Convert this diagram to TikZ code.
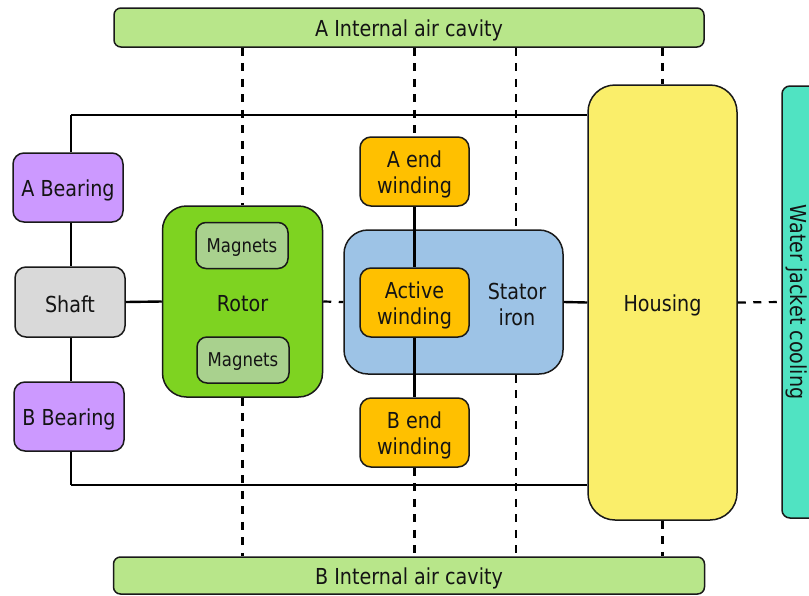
\documentclass[tikz,border=0pt]{standalone}
\usepackage{fontspec}
\setmainfont{DejaVu Sans}[FakeStretch=0.87]
\begin{document}
\begin{tikzpicture}[x=1pt,y=-1pt,
  every node/.style={font=\fontsize{22}{26}\selectfont, text=black!92, align=center, inner sep=0pt},
  blk/.style={draw=black!90, line width=1.5pt, rounded corners=#1},
  blk/.default=11pt,
  lbl/.style={yshift=-2.5pt},
  link/.style={line width=2.4pt, black},
  dlink/.style={line width=2.2pt, black, dash pattern=on 8pt off 7.5pt}]
\definecolor{cavity}{RGB}{184,230,138}
\definecolor{bearing}{RGB}{204,153,255}
\definecolor{shaftc}{RGB}{217,217,217}
\definecolor{rotorc}{RGB}{126,211,33}
\definecolor{magnet}{RGB}{169,209,142}
\definecolor{winding}{RGB}{255,192,0}
\definecolor{statorc}{RGB}{157,195,230}
\definecolor{housingc}{RGB}{250,238,106}
\definecolor{waterc}{RGB}{80,227,194}

\useasboundingbox (0,0) rectangle (809,595);

% air cavities
\node[blk=7pt, fill=cavity, minimum width=590pt, minimum height=39pt] (topbar) at (409,27.5) {};
\node[lbl] (topbar-t) at (topbar) {A Internal air cavity};
\node[blk=7pt, fill=cavity, minimum width=591pt, minimum height=37pt] (botbar) at (409,575.5) {};
\node[lbl] (botbar-t) at (botbar) {B Internal air cavity};

% shaft and bearings
\node[blk, fill=bearing, minimum width=110pt, minimum height=69pt] (abear) at (68,187.5) {};
\node[lbl] (abear-t) at (abear) {A Bearing};
\node[blk, fill=shaftc, minimum width=110pt, minimum height=70pt] (shaft) at (70,302) {};
\node[lbl] (shaft-t) at (shaft) {Shaft};
\node[blk, fill=bearing, minimum width=110pt, minimum height=69pt] (bbear) at (69,416.5) {};
\node[lbl] (bbear-t) at (bbear) {B Bearing};

% rotor
\node[blk=24pt, fill=rotorc, minimum width=160pt, minimum height=191pt] (rotor) at (242.5,301.5) {};
\node[lbl] (rotor-t) at (rotor) {Rotor};
\node[blk=10pt, fill=magnet, minimum width=92pt, minimum height=46pt] (magtop) at (242,245.5) {};
\node[lbl, yshift=0.5pt, font=\fontsize{19}{23}\selectfont] (magtop-t) at (magtop) {Magnets};
\node[blk=10pt, fill=magnet, minimum width=92pt, minimum height=46pt] (magbot) at (243,360) {};
\node[lbl, yshift=0.5pt, font=\fontsize{19}{23}\selectfont] (magbot-t) at (magbot) {Magnets};

% stator
\node[blk=24pt, fill=statorc, minimum width=219pt, minimum height=144pt] (stator) at (453.5,302) {};
\node[lbl] (stator-t) at (517,302) {Stator\\iron};
\node[blk, fill=winding, minimum width=109pt, minimum height=69pt] (aend) at (414.5,171.5) {};
\node[lbl] (aend-t) at (aend) {A end\\winding};
\node[blk, fill=winding, minimum width=109pt, minimum height=69pt] (active) at (414.5,302.5) {};
\node[lbl] (active-t) at (active) {Active\\winding};
\node[blk, fill=winding, minimum width=109pt, minimum height=69pt] (bend) at (414.5,432.5) {};
\node[lbl] (bend-t) at (bend) {B end\\winding};

% housing and water jacket
\node[blk=27pt, fill=housingc, minimum width=149pt, minimum height=435pt] (housing) at (662.5,302.5) {};
\node[lbl] (housing-t) at (housing) {Housing};
\node[blk=8pt, fill=waterc, minimum width=60pt, minimum height=432pt] (water) at (812,302) {};
\node[rotate=-90] (water-t) at (797,302) {Water jacket cooling};

% frame of the solid heat paths
\coordinate (tl) at (71,115);
\coordinate (bl) at (71,485);
\coordinate (sx) at (516,302);

\draw[link] (tl) -- (tl -| housing.west);
\draw[link] (bl) -- (bl -| housing.west);
\draw[link] (tl) -- (tl |- abear.north);
\draw[link] (abear.south -| tl) -- (shaft.north -| tl);
\draw[link] (shaft.south -| tl) -- (bbear.north -| tl);
\draw[link] (bbear.south -| tl) -- (bl);
\draw[link] (shaft.east) -- (rotor.west);
\draw[link] (stator.east) -- (housing.west);
\draw[link] (aend.south) -- (active.north);
\draw[link] (active.south) -- (bend.north);

% convective links to the air cavities and the coolant
\draw[dlink] (rotor.east) -- (stator.west);
\draw[dlink] (housing.east) -- (water.west);
\draw[dlink] (rotor.north |- topbar.south) -- (rotor.north);
\draw[dlink] (rotor.south) -- (rotor.south |- botbar.north);
\draw[dlink] (aend.north |- topbar.south) -- (aend.north);
\draw[dlink] (bend.south) -- (bend.south |- botbar.north);
\draw[dlink] (sx |- topbar.south) -- (sx |- stator.north);
\draw[dlink] (sx |- stator.south) -- (sx |- botbar.north);
\draw[dlink] (housing.north |- topbar.south) -- (housing.north);
\draw[dlink] (housing.south) -- (housing.south |- botbar.north);
\end{tikzpicture}
\end{document}
